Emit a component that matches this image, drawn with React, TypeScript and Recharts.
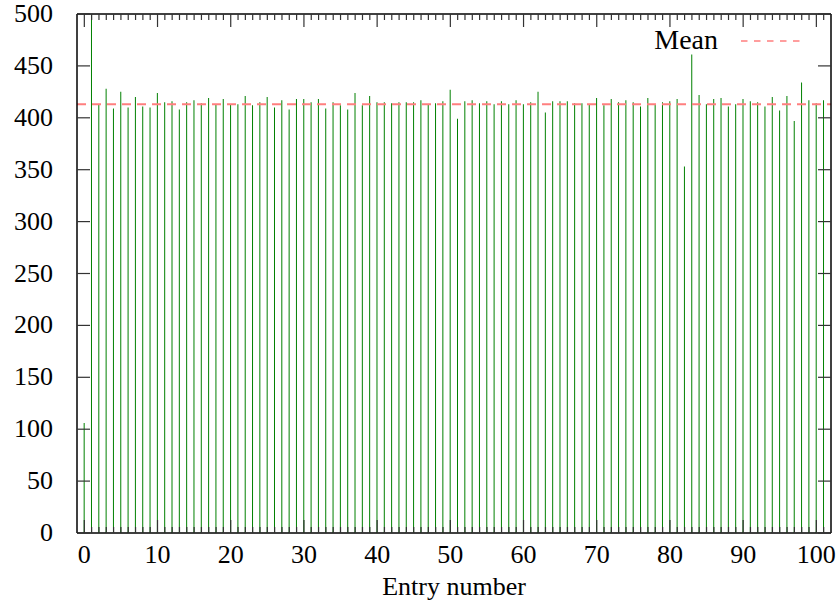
import React from 'react';
import { ComposedChart, Bar, XAxis, YAxis, ReferenceLine } from 'recharts';

// entry numbers along the x axis
const ENTRIES = [
  0, 1, 2, 3, 4, 5, 6, 7, 8, 9, 10, 11, 12, 13, 14, 15, 16, 17, 18, 19, 20,
  21, 22, 23, 24, 25, 26, 27, 28, 29, 30, 31, 32, 33, 34, 35, 36, 37, 38, 39, 40,
  41, 42, 43, 44, 45, 46, 47, 48, 49, 50, 51, 52, 53, 54, 55, 56, 57, 58, 59, 60,
  61, 62, 63, 64, 65, 66, 67, 68, 69, 70, 71, 72, 73, 74, 75, 76, 77, 78, 79, 80,
  81, 82, 83, 84, 85, 86, 87, 88, 89, 90, 91, 92, 93, 94, 95, 96, 97, 98, 99, 100, 101,
];

// value of each entry (entry 1 runs off the top of the plot)
const VALUES = [
  106, 500, 413, 428, 409, 425, 410, 420, 411, 410, 424, 415, 416, 408, 415, 417, 414, 419, 413, 418, 413,
  413, 421, 412, 415, 420, 410, 417, 408, 418, 418, 415, 418, 409, 415, 412, 408, 424, 412, 421, 415,
  415, 414, 415, 415, 415, 417, 413, 414, 416, 427, 399, 416, 417, 414, 416, 413, 416, 413, 417, 413,
  415, 425, 405, 416, 416, 416, 414, 414, 413, 419, 412, 418, 415, 417, 415, 411, 419, 413, 415, 416,
  418, 353, 461, 422, 413, 418, 419, 411, 413, 418, 416, 415, 411, 420, 407, 421, 397, 434, 417, 414, 417,
];

const MEAN = 413;
const MEAN_LABEL = 'Mean';

const X_LABELS = [0, 10, 20, 30, 40, 50, 60, 70, 80, 90, 100];
const Y_TICKS = [0, 50, 100, 150, 200, 250, 300, 350, 400, 450, 500];

const data = ENTRIES.map((n, i) => ({ n, v: VALUES[i] }));

const FONT = 'Liberation Serif, DejaVu Serif, serif';
const FS = 26;
const TICK = '#333';

const BottomTick = (props: any) => {
  const { x, y, payload } = props;
  const major = X_LABELS.includes(payload.value);
  return (
    <g>
      <line x1={x} x2={x} y1={y} y2={y - (major ? 13 : 6)} stroke={TICK} strokeWidth={1.2} />
      {major && (
        <text x={x} y={y + 30} textAnchor="middle" fontSize={FS} style={{ fontFamily: FONT }} fill="#000">
          {payload.value}
        </text>
      )}
    </g>
  );
};

const TopTick = (props: any) => {
  const { x, y, payload } = props;
  const major = X_LABELS.includes(payload.value);
  return <line x1={x} x2={x} y1={y} y2={y + (major ? 13 : 6)} stroke={TICK} strokeWidth={1.2} />;
};

const LeftTick = (props: any) => {
  const { x, y, payload } = props;
  return (
    <g>
      <line x1={x} x2={x + 13} y1={y} y2={y} stroke={TICK} strokeWidth={1.2} />
      <text x={x - 24} y={y + 8} textAnchor="end" fontSize={FS} style={{ fontFamily: FONT }} fill="#000">
        {payload.value}
      </text>
    </g>
  );
};

const RightTick = (props: any) => {
  const { x, y } = props;
  return <line x1={x} x2={x - 13} y1={y} y2={y} stroke={TICK} strokeWidth={1.2} />;
};

const axisLine = { stroke: '#000', strokeWidth: 1.5 };

export default function App() {
  return (
    <div style={{ position: 'absolute', left: 0, top: 0, width: 838, height: 604, background: '#fff', fontFamily: FONT }}>
      <ComposedChart width={838} height={604} data={data} margin={{ top: 13, right: 6, bottom: 0, left: 0 }}>
        <XAxis
          dataKey="n"
          type="number"
          domain={[-1, 102]}
          ticks={ENTRIES}
          interval={0}
          height={71}
          tickSize={0}
          tickMargin={0}
          tickLine={false}
          axisLine={axisLine}
          tick={<BottomTick />}
          label={{ value: 'Entry number', position: 'insideBottom', offset: 9, fontSize: FS, fontFamily: FONT, fill: '#000' }}
        />
        <XAxis
          xAxisId="top"
          orientation="top"
          dataKey="n"
          type="number"
          domain={[-1, 102]}
          ticks={ENTRIES}
          interval={0}
          height={1}
          tickSize={0}
          tickMargin={0}
          tickLine={false}
          axisLine={axisLine}
          tick={<TopTick />}
        />
        <YAxis
          type="number"
          domain={[0, 500]}
          allowDataOverflow
          ticks={Y_TICKS}
          interval={0}
          width={77}
          tickSize={0}
          tickMargin={0}
          tickLine={false}
          axisLine={axisLine}
          tick={<LeftTick />}
        />
        <YAxis
          yAxisId="right"
          orientation="right"
          type="number"
          domain={[0, 500]}
          ticks={Y_TICKS}
          interval={0}
          width={1}
          tickSize={0}
          tickMargin={0}
          tickLine={false}
          axisLine={axisLine}
          tick={<RightTick />}
        />
        <Bar dataKey="v" xAxisId={0} yAxisId={0} barSize={1} fill="#008000" isAnimationActive={false} />
        <Bar dataKey="v" xAxisId="top" yAxisId="right" barSize={0} fill="none" isAnimationActive={false} />
        <ReferenceLine y={MEAN} stroke="#ff7f7f" strokeWidth={2} strokeDasharray="9 6" />
      </ComposedChart>
      <svg width={180} height={40} style={{ position: 'absolute', left: 640, top: 22 }}>
        <text x={78} y={27} textAnchor="end" fontSize={28} style={{ fontFamily: FONT }} fill="#000">
          {MEAN_LABEL}
        </text>
        <line x1={101} x2={166} y1={19} y2={19} stroke="#ff7f7f" strokeWidth={1.5} strokeDasharray="6.5 6.5" />
      </svg>
    </div>
  );
}
